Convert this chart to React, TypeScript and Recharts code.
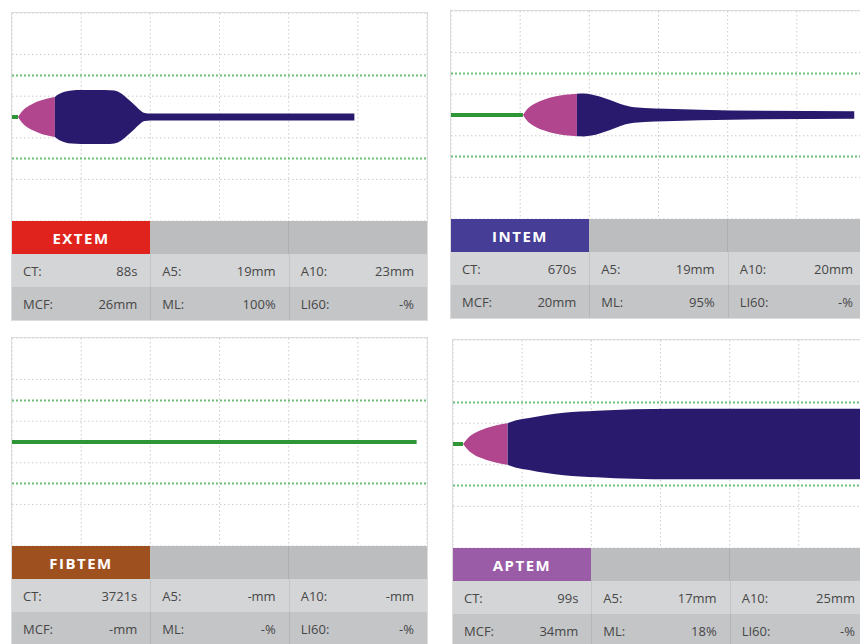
import React from 'react';
import { ComposedChart, Area, Line, XAxis, YAxis, CartesianGrid, ReferenceLine } from 'recharts';

const xTicks = [0, 10, 20, 30, 40, 50, 60];
const yTicks = [-30, -10, 0, 10, 30];
const limitLines = [-20, 20];

// time in minutes, amplitude in mm
const extemBaseT = [0, 0.87];
const extemPinkT = [0.87, 1.4, 2, 3, 4, 5, 6.2];
const extemPinkA = [0, 5, 8.8, 12.8, 15.6, 17.6, 19.3];
const extemNavyT = [6.2, 6.8, 7.6, 8.6, 10, 13.5, 14.8, 15.8, 16.8, 17.8, 18.6, 19.2, 20, 49.5];
const extemNavyA = [19.3, 22, 24.3, 25.6, 26, 26, 25.4, 22.5, 17, 11, 6, 3.8, 3.3, 3.3];

const intemBaseT = [0, 10.4];
const intemPinkT = [10.4, 11, 12, 13.5, 15, 16.5, 18.2];
const intemPinkA = [0, 5.5, 10.5, 15, 17.8, 19.5, 20.5];
const intemNavyT = [18.2, 19.2, 20.3, 21.5, 23, 24.5, 26, 28, 31, 36, 45, 58.3];
const intemNavyA = [20.5, 20.6, 19.8, 17.8, 14.4, 10.5, 8, 6.8, 6, 5, 4, 3.6];

const fibtemBaseT = [0, 58.5];

const aptemBaseT = [0, 1.45];
const aptemPinkT = [1.45, 2.2, 3, 4.2, 5.5, 6.8, 7.9];
const aptemPinkA = [0, 6, 10, 13.8, 16.7, 18.8, 20];
const aptemNavyT = [7.9, 9, 11, 13.5, 16, 20.8, 26, 32, 60];
const aptemNavyA = [20, 22.5, 25, 28, 30, 32, 33.5, 34, 34];

const names = ['EXTEM', 'INTEM', 'FIBTEM', 'APTEM'];
const labelColors = ['#e0241d', '#463d96', '#9e501f', '#9a5ba7'];
const ctVals = ['88s', '670s', '3721s', '99s'];
const a5Vals = ['19mm', '19mm', '-mm', '17mm'];
const a10Vals = ['23mm', '20mm', '-mm', '25mm'];
const mcfVals = ['26mm', '20mm', '-mm', '34mm'];
const mlVals = ['100%', '95%', '-%', '18%'];
const li60Vals = ['-%', '-%', '-%', '-%'];

const panelPos = [
  { left: 12, top: 13 },
  { left: 451, top: 11 },
  { left: 12, top: 338 },
  { left: 453, top: 340 },
];

const NAVY = '#2a1a6e';
const PINK = '#b1468f';
const GREEN = '#2f9638';

function buildRows(baseT: number[], pinkT: number[], pinkA: number[], navyT: number[], navyA: number[]) {
  const map = new Map<number, any>();
  const get = (t: number) => {
    if (!map.has(t)) map.set(t, { t });
    return map.get(t);
  };
  baseT.forEach((t) => (get(t).base = 0));
  pinkT.forEach((t, i) => (get(t).pink = [-pinkA[i] / 2, pinkA[i] / 2]));
  navyT.forEach((t, i) => (get(t).navy = [-navyA[i] / 2, navyA[i] / 2]));
  return Array.from(map.values()).sort((a, b) => a.t - b.t);
}

const panelData = [
  buildRows(extemBaseT, extemPinkT, extemPinkA, extemNavyT, extemNavyA),
  buildRows(intemBaseT, intemPinkT, intemPinkA, intemNavyT, intemNavyA),
  buildRows(fibtemBaseT, [], [], [], []),
  buildRows(aptemBaseT, aptemPinkT, aptemPinkA, aptemNavyT, aptemNavyA),
];

const W = 415;
const PLOT_H = 208;
const ROW_H = 33;
const COL_W = W / 3;

const cellText: React.CSSProperties = {
  fontFamily: '"Open Sans", sans-serif',
  fontSize: 13,
  color: '#474747',
};

function Cell({ label, value, first }: { label: string; value: string; first?: boolean }) {
  return (
    <div
      style={{
        width: COL_W,
        height: ROW_H,
        display: 'flex',
        alignItems: 'center',
        justifyContent: 'space-between',
        boxSizing: 'border-box',
        padding: '0 13px 0 11px',
        borderLeft: first ? 'none' : '1px solid rgba(0,0,0,0.08)',
        ...cellText,
      }}
    >
      <span>{label}</span>
      <span>{value}</span>
    </div>
  );
}

function Panel({ i }: { i: number }) {
  const pos = panelPos[i];
  return (
    <div
      style={{
        position: 'absolute',
        left: pos.left,
        top: pos.top,
        width: W,
        border: '1px solid #dcdcdc',
        boxSizing: 'content-box',
        marginLeft: -1,
        marginTop: -1,
        background: '#fff',
      }}
    >
      <ComposedChart width={W} height={PLOT_H} data={panelData[i]} margin={{ top: 0, right: 0, bottom: 0, left: 0 }}>
        <XAxis type="number" dataKey="t" domain={[0, 60]} ticks={xTicks} allowDataOverflow hide />
        <YAxis type="number" domain={[-50, 50]} ticks={yTicks} allowDataOverflow hide />
        <CartesianGrid stroke="#cbcbcb" strokeDasharray="1.5 2.5" />
        {limitLines.map((y) => (
          <ReferenceLine key={y} y={y} stroke="#6cbf78" strokeWidth={2} strokeDasharray="2 2" />
        ))}
        <Line dataKey="base" stroke={GREEN} strokeWidth={4} dot={false} isAnimationActive={false} />
        <Area type="monotone" dataKey="pink" fill={PINK} fillOpacity={1} stroke="none" isAnimationActive={false} />
        <Area type="monotone" dataKey="navy" fill={NAVY} fillOpacity={1} stroke="none" isAnimationActive={false} />
      </ComposedChart>
      <div style={{ display: 'flex', height: ROW_H, background: '#bcbdbf' }}>
        <div
          style={{
            width: COL_W,
            background: labelColors[i],
            color: '#fff',
            fontFamily: '"Open Sans", sans-serif',
            fontWeight: 700,
            fontSize: 15,
            letterSpacing: 1.5,
            display: 'flex',
            alignItems: 'center',
            justifyContent: 'center',
          }}
        >
          {names[i]}
        </div>
        <div style={{ width: COL_W }} />
        <div style={{ width: COL_W, borderLeft: '1px solid rgba(0,0,0,0.08)' }} />
      </div>
      <div style={{ display: 'flex', background: '#d4d5d7' }}>
        <Cell first label="CT:" value={ctVals[i]} />
        <Cell label="A5:" value={a5Vals[i]} />
        <Cell label="A10:" value={a10Vals[i]} />
      </div>
      <div style={{ display: 'flex', background: '#c4c5c7' }}>
        <Cell first label="MCF:" value={mcfVals[i]} />
        <Cell label="ML:" value={mlVals[i]} />
        <Cell label="LI60:" value={li60Vals[i]} />
      </div>
    </div>
  );
}

export default function App() {
  return (
    <div
      style={{
        position: 'fixed',
        left: 0,
        top: 0,
        width: 860,
        height: 644,
        overflow: 'hidden',
        background: '#fff',
      }}
    >
      {names.map((n, i) => (
        <Panel key={n} i={i} />
      ))}
    </div>
  );
}
